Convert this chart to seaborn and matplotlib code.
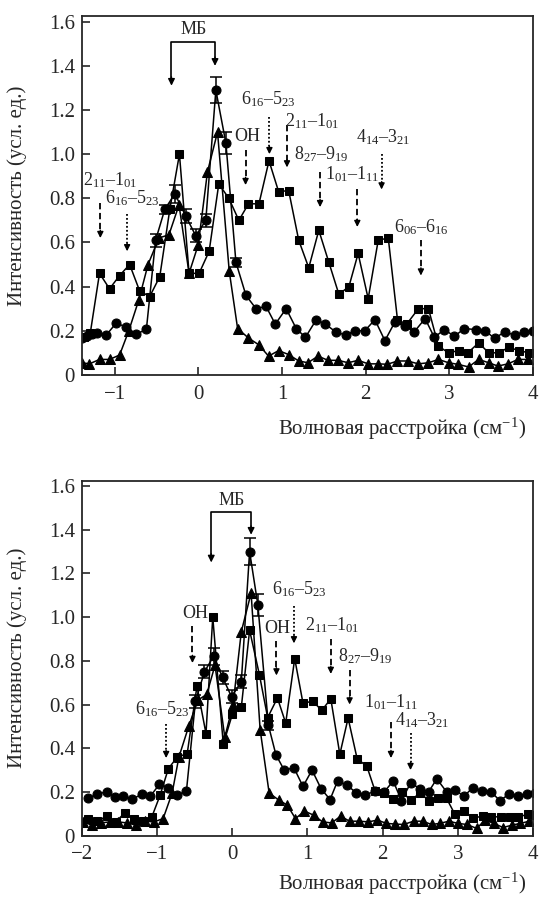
import matplotlib
matplotlib.use('Agg')
import matplotlib.pyplot as plt
import seaborn as sns

# ---- panel 1 data ----
top_circ_x = [-1.39, -1.33, -1.27, -1.21, -1.10, -0.98, -0.86, -0.74, -0.62, -0.51, -0.40, -0.28, -0.15, -0.03,
              0.09, 0.21, 0.33, 0.45, 0.57, 0.69, 0.81, 0.92, 1.05, 1.17, 1.28, 1.41, 1.52, 1.64, 1.76, 1.87,
              1.99, 2.11, 2.23, 2.35, 2.47, 2.58, 2.71, 2.82, 2.94, 3.06, 3.18, 3.32, 3.43, 3.54, 3.66, 3.78,
              3.89, 4.0]
top_circ_y = [0.167, 0.174, 0.185, 0.19, 0.18, 0.235, 0.216, 0.185, 0.206, 0.61, 0.75, 0.82, 0.72, 0.63,
              0.70, 1.29, 1.05, 0.51, 0.36, 0.30, 0.31, 0.23, 0.30, 0.21, 0.17, 0.25, 0.23, 0.195, 0.18, 0.20,
              0.20, 0.25, 0.155, 0.24, 0.22, 0.195, 0.255, 0.17, 0.205, 0.175, 0.21, 0.205, 0.20, 0.165, 0.195,
              0.18, 0.195, 0.20]
top_err_x = [-0.51, -0.40, -0.28, -0.15, -0.03, 0.09, 0.21, 0.33, 0.45]
top_err_y = [0.61, 0.75, 0.82, 0.72, 0.63, 0.70, 1.29, 1.05, 0.51]
top_err = [0.03, 0.02, 0.04, 0.03, 0.03, 0.03, 0.06, 0.05, 0.02]

top_tri_x = [-1.39, -1.30, -1.18, -1.06, -0.94, -0.83, -0.71, -0.60, -0.47, -0.35, -0.23, -0.11, 0.0, 0.11,
             0.23, 0.37, 0.47, 0.60, 0.72, 0.84, 0.96, 1.08, 1.20, 1.31, 1.43, 1.55, 1.67, 1.79, 1.91, 2.03,
             2.15, 2.26, 2.38, 2.50, 2.63, 2.75, 2.87, 2.99, 3.10, 3.23, 3.35, 3.47, 3.58, 3.70, 3.82, 3.94]
top_tri_y = [0.055, 0.05, 0.07, 0.07, 0.09, 0.20, 0.34, 0.50, 0.62, 0.635, 0.77, 0.46, 0.59, 0.92,
             1.10, 0.47, 0.21, 0.167, 0.137, 0.085, 0.11, 0.092, 0.063, 0.055, 0.085, 0.066, 0.066, 0.055,
             0.066, 0.05, 0.05, 0.048, 0.063, 0.063, 0.05, 0.055, 0.07, 0.055, 0.048, 0.036, 0.07, 0.055,
             0.04, 0.05, 0.07, 0.07]

top_sq_x = [-1.37, -1.29, -1.18, -1.06, -0.94, -0.82, -0.70, -0.58, -0.46, -0.34, -0.225, -0.11, 0.01, 0.13,
            0.245, 0.365, 0.485, 0.60, 0.725, 0.845, 0.96, 1.08, 1.20, 1.32, 1.44, 1.56, 1.68, 1.80, 1.91,
            2.03, 2.15, 2.27, 2.38, 2.49, 2.63, 2.75, 2.87, 2.99, 3.11, 3.22, 3.35, 3.47, 3.59, 3.71, 3.83, 3.95]
top_sq_y = [0.17, 0.19, 0.46, 0.39, 0.45, 0.50, 0.38, 0.355, 0.445, 0.75, 1.0, 0.46, 0.46, 0.56,
            0.865, 0.80, 0.70, 0.775, 0.775, 0.97, 0.83, 0.835, 0.61, 0.485, 0.655, 0.51, 0.365, 0.40, 0.55,
            0.345, 0.61, 0.62, 0.25, 0.23, 0.30, 0.30, 0.13, 0.10, 0.11, 0.10, 0.145, 0.10, 0.10, 0.125,
            0.11, 0.10]

# ---- panel 2 data ----
bot_circ_x = [-1.92, -1.80, -1.67, -1.56, -1.45, -1.33, -1.20, -1.09, -0.97, -0.85, -0.73, -0.61, -0.49, -0.37,
              -0.25, -0.13, -0.01, 0.12, 0.23, 0.34, 0.48, 0.58, 0.69, 0.82, 0.94, 1.06, 1.18, 1.30, 1.40, 1.53,
              1.65, 1.77, 1.90, 2.02, 2.14, 2.25, 2.37, 2.50, 2.61, 2.72, 2.85, 2.96, 3.08, 3.20, 3.32, 3.44,
              3.56, 3.68, 3.80, 3.92, 4.03]
bot_circ_y = [0.17, 0.19, 0.20, 0.177, 0.18, 0.167, 0.19, 0.18, 0.235, 0.22, 0.185, 0.205, 0.615, 0.75,
              0.82, 0.725, 0.635, 0.705, 1.30, 1.055, 0.505, 0.37, 0.30, 0.31, 0.225, 0.30, 0.215, 0.165, 0.25,
              0.23, 0.195, 0.185, 0.205, 0.20, 0.25, 0.16, 0.24, 0.215, 0.20, 0.26, 0.20, 0.21, 0.18, 0.22,
              0.205, 0.20, 0.16, 0.19, 0.18, 0.19, 0.195]
bot_err_x = [-0.49, -0.37, -0.25, -0.13, -0.01, 0.12, 0.23, 0.34, 0.48]
bot_err_y = [0.615, 0.75, 0.82, 0.725, 0.635, 0.705, 1.30, 1.055, 0.505]
bot_err = [0.03, 0.03, 0.04, 0.03, 0.03, 0.03, 0.06, 0.05, 0.02]

bot_tri_x = [-1.98, -1.87, -1.75, -1.63, -1.52, -1.40, -1.28, -1.16, -1.04, -0.92, -0.80, -0.71, -0.58, -0.46,
             -0.34, -0.23, -0.10, 0.01, 0.12, 0.25, 0.37, 0.49, 0.62, 0.73, 0.84, 0.96, 1.08, 1.20, 1.32, 1.44,
             1.56, 1.68, 1.81, 1.93, 2.05, 2.16, 2.28, 2.41, 2.53, 2.65, 2.76, 2.88, 3.00, 3.12, 3.25, 3.36,
             3.48, 3.60, 3.72, 3.83, 3.95]
bot_tri_y = [0.063, 0.048, 0.058, 0.063, 0.063, 0.058, 0.048, 0.066, 0.063, 0.078, 0.195, 0.36, 0.50, 0.62,
             0.646, 0.78, 0.45, 0.60, 0.934, 1.11, 0.485, 0.195, 0.162, 0.14, 0.078, 0.112, 0.094, 0.063,
             0.058, 0.089, 0.066, 0.066, 0.063, 0.071, 0.056, 0.053, 0.051, 0.066, 0.066, 0.051, 0.056, 0.066,
             0.056, 0.051, 0.033, 0.071, 0.056, 0.037, 0.048, 0.056, 0.066]

bot_sq_x = [-1.92, -1.80, -1.67, -1.55, -1.43, -1.31, -1.19, -1.07, -0.96, -0.85, -0.73, -0.60, -0.47, -0.35,
            -0.26, -0.12, 0.0, 0.12, 0.23, 0.36, 0.47, 0.60, 0.71, 0.83, 0.94, 1.07, 1.19, 1.31, 1.43, 1.54,
            1.66, 1.79, 1.90, 2.02, 2.14, 2.26, 2.37, 2.50, 2.62, 2.74, 2.85, 2.96, 3.08, 3.20, 3.33, 3.44,
            3.57, 3.69, 3.80, 3.93, 4.03]
bot_sq_y = [0.078, 0.066, 0.089, 0.063, 0.104, 0.078, 0.068, 0.086, 0.185, 0.307, 0.36, 0.375, 0.684, 0.467,
            1.0, 0.418, 0.555, 0.588, 0.94, 0.737, 0.54, 0.63, 0.515, 0.81, 0.606, 0.615, 0.573, 0.626, 0.372,
            0.538, 0.352, 0.317, 0.203, 0.195, 0.167, 0.20, 0.162, 0.195, 0.158, 0.17, 0.17, 0.098, 0.113,
            0.079, 0.09, 0.086, 0.086, 0.086, 0.086, 0.097, 0.094]

SUB = r'$\mathregular{%s_{%s}}$'


def tr(a, b, c, d):
    return SUB % (a, b) + '\u2013' + SUB % (c, d)


# annotations: (x, y_start, y_end, style)
top_arrows = [(-1.17, 0.78, 0.62, 'dash'), (-0.85, 0.73, 0.56, 'dot'), (0.565, 1.02, 0.86, 'dash'),
              (0.85, 1.17, 1.0, 'dot'), (1.06, 1.13, 0.94, 'dash'), (1.455, 0.92, 0.76, 'dash'),
              (1.90, 0.84, 0.67, 'dash'), (2.19, 1.00, 0.84, 'dot'), (2.66, 0.61, 0.45, 'dash')]
top_texts = [(-1.38, 0.88, tr(2, 11, 1, '01')), (-1.12, 0.80, tr(6, 16, 5, 23)), (0.43, 1.08, 'OH'),
             (0.51, 1.25, tr(6, 16, 5, 23)), (1.04, 1.15, tr(2, 11, 1, '01')), (1.14, 1.00, tr(8, 27, 9, 19)),
             (1.52, 0.91, tr(1, '01', 1, 11)), (1.89, 1.075, tr(4, 14, 3, 21)), (2.34, 0.67, tr(6, '06', 6, 16))]
top_mb = (-0.32, 0.20, 1.51, 1.31, 1.40)

bot_arrows = [(-0.88, 0.51, 0.355, 'dot'), (-0.53, 0.96, 0.79, 'dash'), (0.587, 0.89, 0.733, 'dash'),
              (0.82, 1.05, 0.88, 'dot'), (1.31, 0.90, 0.74, 'dash'), (1.56, 0.76, 0.60, 'dash'),
              (2.11, 0.52, 0.355, 'dash'), (2.37, 0.47, 0.30, 'dot')]
bot_texts = [(-1.29, 0.58, tr(6, 16, 5, 23)), (-0.67, 1.015, 'OH'), (0.42, 0.95, 'OH'),
             (0.53, 1.13, tr(6, 16, 5, 23)), (0.97, 0.965, tr(2, 11, 1, '01')), (1.40, 0.82, tr(8, 27, 9, 19)),
             (1.75, 0.61, tr(1, '01', 1, 11)), (2.17, 0.53, tr(4, 14, 3, 21))]
bot_mb = (-0.28, 0.25, 1.48, 1.25, 1.377)

sns.set_style('ticks')
plt.rcParams['font.family'] = ['Liberation Serif', 'DejaVu Serif']
plt.rcParams['mathtext.fontset'] = 'custom'
plt.rcParams['mathtext.rm'] = 'Liberation Serif'
plt.rcParams['mathtext.it'] = 'Liberation Serif:italic'
plt.rcParams['mathtext.bf'] = 'Liberation Serif:bold'

fig = plt.figure(figsize=(5.39, 8.99), dpi=100)
ax1 = fig.add_axes([0.152, 0.583, 0.837, 0.399])
ax2 = fig.add_axes([0.152, 0.0705, 0.837, 0.395])


def draw_panel(ax, cx, cy, ex, ey, ee, tx, ty, sx, sy, xlim, arrows, texts, mb):
    kw = dict(ax=ax, color='black', estimator=None, sort=False, linewidth=1.1, markeredgecolor='black')
    sns.lineplot(x=sx, y=sy, marker='s', markersize=6, **kw)
    sns.lineplot(x=tx, y=ty, marker='^', markersize=7, **kw)
    sns.lineplot(x=cx, y=cy, marker='o', markersize=6.5, **kw)
    ax.errorbar(ex, ey, yerr=ee, fmt='none', ecolor='black', elinewidth=1.1, capsize=4, capthick=1.1)

    for x, y0, y1, st in arrows:
        ls = (0, (1, 1.2)) if st == 'dot' else (0, (3.5, 2))
        ax.plot([x, x], [y0, y1 + 0.03], color='black', lw=1.3, ls=ls)
        ax.annotate('', xy=(x, y1), xytext=(x, y1 + 0.035),
                    arrowprops=dict(arrowstyle='-|>', color='black', lw=1, mutation_scale=9,
                                    shrinkA=0, shrinkB=0))
    for x, y, s in texts:
        ax.text(x, y, s, fontsize=13, ha='left', va='center')

    xl, xr, ytop, tipl, tipr = mb
    ax.plot([xl, xl, xr, xr], [tipl + 0.03, ytop, ytop, tipr + 0.03], color='black', lw=1.2)
    for x, tip in [(xl, tipl), (xr, tipr)]:
        ax.annotate('', xy=(x, tip), xytext=(x, tip + 0.04),
                    arrowprops=dict(arrowstyle='-|>', color='black', lw=1, mutation_scale=10,
                                    shrinkA=0, shrinkB=0))
    ax.text((xl + xr) / 2, ytop + 0.055, 'МБ', fontsize=13, ha='center', va='center')

    ax.set_xlim(*xlim)
    ax.set_ylim(0, 1.625)
    ax.set_yticks([0, 0.2, 0.4, 0.6, 0.8, 1.0, 1.2, 1.4, 1.6])
    ax.set_yticklabels(['0', '0.2', '0.4', '0.6', '0.8', '1.0', '1.2', '1.4', '1.6'])
    ax.tick_params(direction='in', length=6, width=1.2, labelsize=15, top=False, right=False)
    ax.tick_params(axis='x', pad=7)
    ax.tick_params(axis='y', pad=5)
    for sp in ax.spines.values():
        sp.set_linewidth(1.3)
        sp.set_visible(True)
    ax.set_xlabel('Волновая расстройка (см$^{\\mathregular{-1}}$)', fontsize=15, loc='right')
    ax.set_ylabel('Интенсивность (усл. ед.)', fontsize=15)
    ax.yaxis.set_label_coords(-0.122, 0.5)


draw_panel(ax1, top_circ_x, top_circ_y, top_err_x, top_err_y, top_err, top_tri_x, top_tri_y,
           top_sq_x, top_sq_y, (-1.39, 4.0), top_arrows, top_texts, top_mb)
ax1.set_xticks([-1, 0, 1, 2, 3, 4])
ax1.set_xticklabels(['\u22121', '0', '1', '2', '3', '4'])
ax1.xaxis.set_label_coords(0.985, -0.115)

draw_panel(ax2, bot_circ_x, bot_circ_y, bot_err_x, bot_err_y, bot_err, bot_tri_x, bot_tri_y,
           bot_sq_x, bot_sq_y, (-2.0, 4.0), bot_arrows, bot_texts, bot_mb)
ax2.set_xticks([-2, -1, 0, 1, 2, 3, 4])
ax2.set_xticklabels(['\u22122', '\u22121', '0', '1', '2', '3', '4'])
ax2.xaxis.set_label_coords(0.985, -0.1)

fig.savefig('out.png', dpi=100)
